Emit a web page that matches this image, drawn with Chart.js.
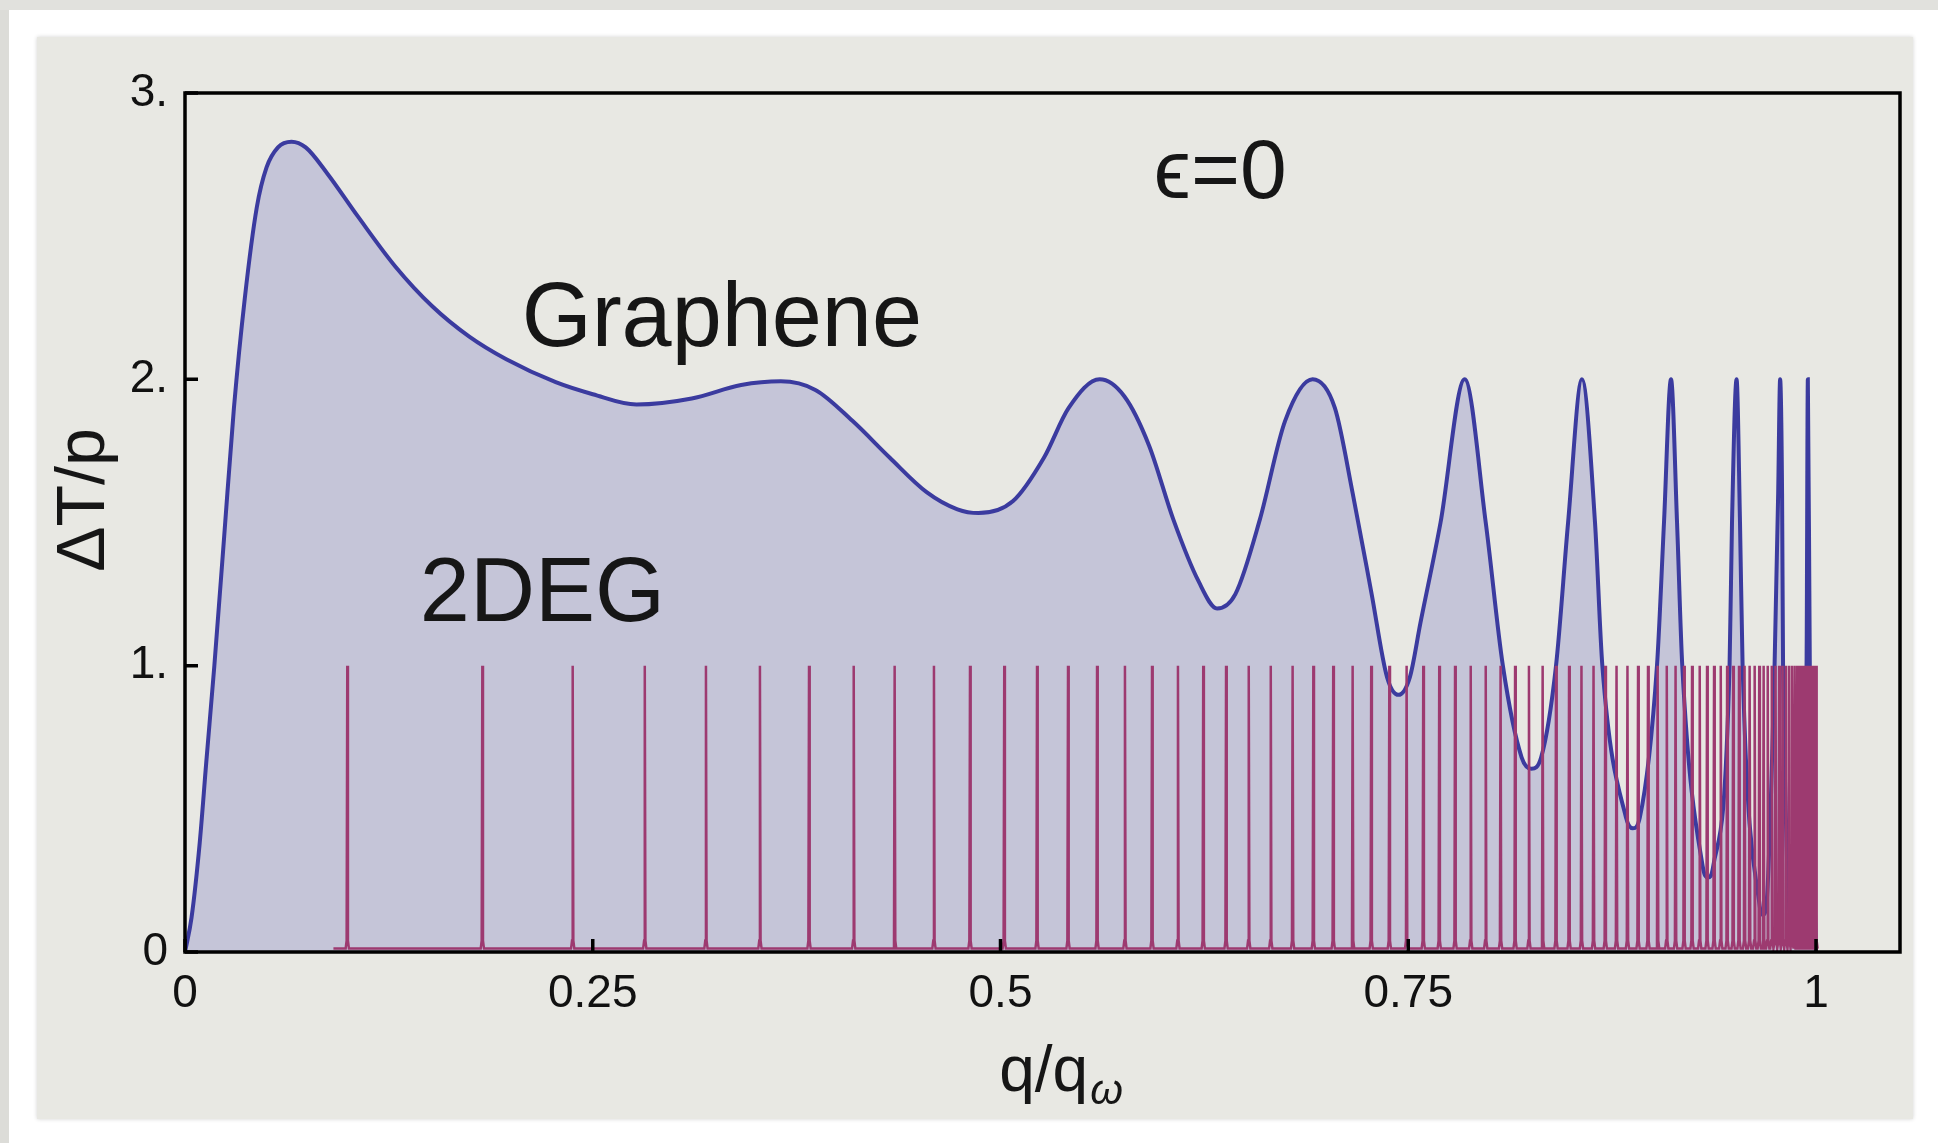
<!DOCTYPE html>
<html>
<head>
<meta charset="utf-8">
<title>ΔT/p – Graphene vs 2DEG</title>
<script src="https://cdn.jsdelivr.net/npm/chart.js@4.4.1/dist/chart.umd.min.js"></script>
<style>
  html, body { margin: 0; padding: 0; background: #fff; }
  #page { position: relative; width: 1938px; height: 1143px; overflow: hidden; background: #fff; }
  .edge-top { position: absolute; left: 0; top: 0; width: 1938px; height: 10px; background: #e1e1dd; }
  .edge-left { position: absolute; left: 0; top: 10px; width: 9px; height: 1133px; background: #dcdcd8; }
  .panel { position: absolute; left: 37px; top: 37px; width: 1876px; height: 1082px; background: #e8e8e3;
           box-shadow: 0 0 4px rgba(0, 0, 0, 0.18); }
  #chart { position: absolute; left: 0; top: 0; }
</style>
</head>
<body>
<div id="page">
  <div class="edge-top"></div>
  <div class="edge-left"></div>
  <div class="panel"></div>
  <canvas id="chart" width="1938" height="1143"></canvas>
</div>
<script>
/* global Chart */

// Axis ticks
var xTickValues = [0, 0.25, 0.5, 0.75, 1];
var xTickLabels = ['0', '0.25', '0.5', '0.75', '1'];
var yTickValues = [0, 1, 2, 3];
var yTickLabels = ['0', '1.', '2.', '3.'];

// Graphene: q/q_w and ΔT/p
var grapheneQ = [
  0, 0.004, 0.009, 0.013, 0.018, 0.024, 0.030, 0.0366, 0.044, 0.050, 0.057, 0.0653, 0.074,
  0.0871, 0.1061, 0.1288, 0.1516, 0.1743, 0.197, 0.2273, 0.25, 0.2768, 0.3107, 0.341, 0.3653,
  0.3865, 0.4092, 0.432, 0.4547, 0.4736, 0.4865, 0.5077, 0.5267, 0.5418, 0.5608, 0.576, 0.591,
  0.606, 0.6214, 0.6328, 0.644, 0.659, 0.6745, 0.6914, 0.705, 0.716, 0.7275, 0.737, 0.744,
  0.751, 0.7575, 0.7698, 0.7846, 0.7975, 0.808, 0.8195, 0.8255, 0.8315, 0.8406, 0.848, 0.8565,
  0.8645, 0.869, 0.8835, 0.8877, 0.892, 0.9025, 0.9068, 0.9111, 0.9148, 0.918, 0.9305, 0.9337,
  0.937, 0.947, 0.9485, 0.9513, 0.9534, 0.955, 0.9655, 0.9675, 0.9695, 0.9746, 0.9768, 0.978,
  0.9792, 0.9798, 0.987, 0.9942, 0.995, 0.9962, 1.0
];
var grapheneT = [
  0, 0.12, 0.38, 0.66, 1.0, 1.45, 1.9, 2.28, 2.6, 2.74, 2.81, 2.83, 2.81,
  2.72, 2.568, 2.395, 2.255, 2.149, 2.07, 1.99, 1.948, 1.912, 1.933, 1.98, 1.993,
  1.963, 1.855, 1.727, 1.606, 1.546, 1.533, 1.575, 1.727, 1.9, 2.0, 1.94, 1.77,
  1.51, 1.295, 1.2, 1.25, 1.51, 1.855, 2.0, 1.9, 1.6, 1.252, 0.96, 0.898,
  0.96, 1.15, 1.5, 2.0, 1.5, 1.0, 0.68, 0.64, 0.68, 1.0, 1.5, 2.0,
  1.5, 1.0, 0.47, 0.432, 0.47, 1.0, 1.5, 2.0, 1.5, 1.0, 0.3, 0.26,
  0.3, 1.0, 1.5, 2.0, 1.5, 1.0, 0.16, 0.13, 0.16, 1.0, 1.6, 2.0,
  1.6, 1.0, 0.05, 1.0, 2.0, 1.0, 0
];

// 2DEG: resonance positions (q/q_w) and their common height
var tdegPeakQ = [
  0.0995, 0.1823, 0.2377, 0.2819, 0.3194, 0.3525, 0.3826, 0.4100, 0.4351, 0.4592, 0.4813, 0.5023,
  0.5224, 0.5414, 0.5592, 0.5763, 0.5929, 0.6088, 0.6243, 0.6383, 0.6522, 0.6657, 0.6791, 0.6918,
  0.7040, 0.7159, 0.7273, 0.7384, 0.7490, 0.7592, 0.7690, 0.7787, 0.7883, 0.7975, 0.8066, 0.8155,
  0.8240, 0.8324, 0.8406, 0.8486, 0.8562, 0.8636, 0.8708, 0.8777, 0.8844, 0.8909, 0.8970, 0.9029,
  0.9085, 0.9139, 0.9191, 0.9240, 0.9287, 0.9332, 0.9375, 0.9416, 0.9455, 0.9492, 0.9528, 0.9562,
  0.9593, 0.9624, 0.9652, 0.9679, 0.9704, 0.9729, 0.9752, 0.9774, 0.9795, 0.9815, 0.9834, 0.9852,
  0.9869, 0.9885, 0.9899, 0.9914, 0.9927, 0.9940, 0.9952, 0.9963, 0.9973, 0.9983, 0.9993, 1.0000
];
var tdegPeakT = 1.0;
var tdegStartQ = 0.091;

(function () {
  'use strict';

  var FONT = '"Liberation Sans", Arial, Helvetica, sans-serif';
  Chart.defaults.font.family = FONT;

  // Each resonance is a narrow line with a small flare at its foot.
  var base = 0.012;
  var tdegPoints = [{ x: tdegStartQ, y: base }];
  tdegPeakQ.forEach(function (q) {
    tdegPoints.push(
      { x: q - 0.001, y: base },
      { x: q - 0.0004, y: 0.04 },
      { x: q, y: tdegPeakT },
      { x: q + 0.0004, y: 0.04 },
      { x: q + 0.001, y: base }
    );
  });

  var graphenePoints = grapheneQ.map(function (q, i) {
    return { x: q, y: grapheneT[i] };
  });

  // Frame and inward tick marks.
  var framePlugin = {
    id: 'frame',
    afterDatasetsDraw: function (chart) {
      var ctx = chart.ctx, a = chart.chartArea, x = chart.scales.x, y = chart.scales.y;
      ctx.save();
      ctx.strokeStyle = '#000';
      ctx.lineWidth = 3.5;
      ctx.strokeRect(a.left, a.top, a.right - a.left, a.bottom - a.top);
      ctx.beginPath();
      xTickValues.forEach(function (v) {
        var px = x.getPixelForValue(v);
        ctx.moveTo(px, a.bottom);
        ctx.lineTo(px, a.bottom - 13);
      });
      yTickValues.forEach(function (v) {
        var py = y.getPixelForValue(v);
        ctx.moveTo(a.left, py);
        ctx.lineTo(a.left + 13, py);
      });
      ctx.stroke();
      ctx.restore();
    }
  };

  // Curve labels and axis titles.
  var labelsPlugin = {
    id: 'labels',
    afterDraw: function (chart) {
      var ctx = chart.ctx, x = chart.scales.x, y = chart.scales.y;
      ctx.save();
      ctx.fillStyle = '#161616';
      ctx.textAlign = 'left';
      ctx.textBaseline = 'alphabetic';

      ctx.font = '90px ' + FONT;
      ctx.fillText('Graphene', x.getPixelForValue(0.2064), y.getPixelForValue(2.115));
      ctx.fillText('2DEG', x.getPixelForValue(0.144), y.getPixelForValue(1.157));

      ctx.font = '84px ' + FONT;
      ctx.fillText('ϵ=0', x.getPixelForValue(0.594), y.getPixelForValue(2.632));

      // x title: q/q with subscript omega
      ctx.font = '64px ' + FONT;
      var mainW = ctx.measureText('q/q').width;
      ctx.font = 'italic 42px ' + FONT;
      var subW = ctx.measureText('ω').width;
      var left = 1061 - (mainW + subW + 2) / 2;
      ctx.font = '64px ' + FONT;
      ctx.fillText('q/q', left, 1091);
      ctx.font = 'italic 42px ' + FONT;
      ctx.fillText('ω', left + mainW + 2, 1104);

      // y title, rotated
      ctx.translate(104, 500);
      ctx.rotate(-Math.PI / 2);
      ctx.textAlign = 'center';
      ctx.font = '68px ' + FONT;
      ctx.fillText('ΔT/p', 0, 0);
      ctx.restore();
    }
  };

  new Chart(document.getElementById('chart'), {
    type: 'line',
    data: {
      datasets: [{
        label: 'Graphene',
        data: graphenePoints,
        borderColor: '#3b3b9f',
        borderWidth: 4,
        backgroundColor: '#c5c5d8',
        fill: 'origin',
        pointRadius: 0,
        cubicInterpolationMode: 'monotone',
        order: 1
      }, {
        label: '2DEG',
        data: tdegPoints,
        borderColor: '#9d3a70',
        borderWidth: 2.5,
        fill: false,
        pointRadius: 0,
        tension: 0,
        order: 0
      }]
    },
    options: {
      responsive: false,
      animation: false,
      layout: { padding: { top: 93, right: 38, left: 0, bottom: 0 } },
      plugins: {
        legend: { display: false },
        tooltip: { enabled: false }
      },
      scales: {
        x: {
          type: 'linear',
          min: 0,
          max: 1.0515,
          grid: { display: false, drawTicks: false },
          border: { display: false },
          afterBuildTicks: function (s) {
            s.ticks = xTickValues.map(function (v) { return { value: v }; });
          },
          afterFit: function (s) { s.height = 191; },
          ticks: {
            autoSkip: false,
            maxRotation: 0,
            padding: 15,
            color: '#111',
            font: { size: 46 },
            callback: function (v) { return xTickLabels[xTickValues.indexOf(v)]; }
          }
        },
        y: {
          type: 'linear',
          min: 0,
          max: 3,
          grid: { display: false, drawTicks: false },
          border: { display: false },
          afterBuildTicks: function (s) {
            s.ticks = yTickValues.map(function (v) { return { value: v }; });
          },
          afterFit: function (s) { s.width = 185; },
          ticks: {
            autoSkip: false,
            padding: 17,
            color: '#111',
            font: { size: 46 },
            callback: function (v) { return yTickLabels[yTickValues.indexOf(v)]; }
          }
        }
      }
    },
    plugins: [framePlugin, labelsPlugin]
  });
})();
</script>
</body>
</html>
